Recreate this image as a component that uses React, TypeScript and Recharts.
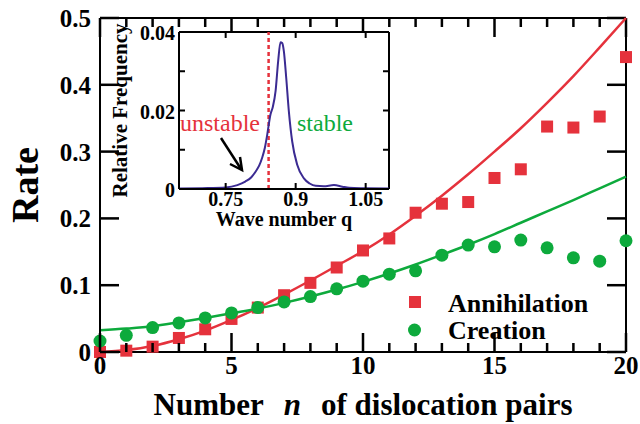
import React from 'react';
import {
  ComposedChart,
  Line,
  Scatter,
  XAxis,
  YAxis,
  Legend,
  Label,
  ReferenceLine,
  CartesianGrid,
} from 'recharts';

const FONT = "'Liberation Serif', 'Times New Roman', serif";
const RED = '#e5323c';
const GREEN = '#0daa3c';
const NAVY = '#3b2b92';

// main panel: rates vs number of dislocation pairs
const pairs = [0, 1, 2, 3, 4, 5, 6, 7, 8, 9, 10, 11, 12, 13, 14, 15, 16, 17, 18, 19, 20];
const annihilation = [0.0, 0.002, 0.008, 0.021, 0.034, 0.0495, 0.0665, 0.085, 0.1035, 0.1265, 0.152, 0.17, 0.2085, 0.222, 0.2245, 0.2605, 0.2735, 0.3375, 0.336, 0.3525, 0.4415];
const creation = [0.0165, 0.025, 0.0365, 0.0435, 0.051, 0.0585, 0.0665, 0.075, 0.083, 0.0945, 0.106, 0.1165, 0.1215, 0.145, 0.16, 0.1575, 0.1675, 0.156, 0.141, 0.136, 0.1665];
const annihilationFit = [0.0, 0.003, 0.009, 0.019, 0.032, 0.048, 0.066, 0.086, 0.107, 0.129, 0.151, 0.176, 0.204, 0.234, 0.266, 0.3, 0.335, 0.373, 0.413, 0.456, 0.5];
const creationFit = [0.0325, 0.035, 0.0385, 0.0445, 0.051, 0.058, 0.065, 0.0735, 0.083, 0.0935, 0.105, 0.1175, 0.131, 0.1455, 0.1605, 0.1765, 0.1935, 0.2105, 0.2275, 0.245, 0.2625];
const seriesNames = ['Annihilation', 'Creation'];
const rateTicks = [0, 0.1, 0.2, 0.3, 0.4, 0.5];

// inset: wave number distribution
const waveNumber = [0.65, 0.7, 0.75, 0.775, 0.792, 0.805, 0.814, 0.822, 0.828, 0.834, 0.839, 0.846, 0.851, 0.857, 0.8625, 0.8675, 0.871, 0.8746, 0.8797, 0.8854, 0.8926, 0.9033, 0.9177, 0.93, 0.943, 0.96, 0.982, 1.0, 1.0146, 1.05, 1.1];
const relFreq = [0.0001, 0.0002, 0.0004, 0.001, 0.0019, 0.003, 0.0044, 0.006, 0.0079, 0.0105, 0.0138, 0.019, 0.0209, 0.025, 0.0326, 0.0374, 0.0372, 0.0352, 0.0284, 0.0198, 0.0121, 0.0062, 0.0027, 0.0014, 0.0008, 0.0007, 0.001, 0.0006, 0.0003, 0.0002, 0.0001];
const qTicks = [0.75, 0.9, 1.05];
const qLabels = ['0.75', '0.9', '1.05'];
const fTicks = [0, 0.01, 0.02, 0.03, 0.04];
const fLabels = ['0', '', '0.02', '', '0.04'];
const stabilityEdge = 0.842;

const mainData = pairs.map((n, i) => ({
  n,
  annihilation: annihilation[i],
  creation: creation[i],
  annihilationFit: annihilationFit[i],
  creationFit: creationFit[i],
}));
const insetData = waveNumber.map((q, i) => ({ q, freq: relFreq[i] }));

// tick lengths for the top/right edges, as data units (19px / 9px / 6px)
const MAJOR_RATE = (0.5 * 19) / 334;
const MINOR_RATE = (0.5 * 9) / 334;
const MAJOR_PAIRS = (20 * 19) / 526;
const INSET_Q = (0.45 * 6) / 210;
const INSET_F = (0.04 * 6) / 158;
const TICK_W = 2.5;

const bold = { style: { fontFamily: FONT, fontWeight: 700 }, fill: '#000' };

const BottomTick = (p: any) => {
  const major = p.payload.value % 5 === 0;
  const len = major ? 19 : 9;
  return (
    <g>
      <rect x={p.x - TICK_W / 2} y={p.y - len} width={TICK_W} height={len} fill="#000" />
      {major && (
        <text x={p.x} y={p.y + 22} textAnchor="middle" fontSize={25} {...bold}>
          {p.payload.value}
        </text>
      )}
    </g>
  );
};
const LeftTick = (p: any) => (
  <g>
    <rect x={p.x} y={p.y - TICK_W / 2} width={19} height={TICK_W} fill="#000" />
    <text x={p.x - 9} y={p.y + 9} textAnchor="end" fontSize={25} {...bold}>
      {p.payload.value === 0 ? '0' : p.payload.value.toFixed(1)}
    </text>
  </g>
);
const InsetBottomTick = (p: any) => (
  <g>
    <rect x={p.x - 1} y={p.y - 6} width={2} height={6} fill="#000" />
    <text x={p.x} y={p.y + 17} textAnchor="middle" fontSize={20} {...bold}>
      {qLabels[p.index]}
    </text>
  </g>
);
const InsetLeftTick = (p: any) => (
  <g>
    <rect x={p.x} y={p.y - 1} width={6} height={2} fill="#000" />
    <text x={p.x - 4} y={p.y + 8} textAnchor="end" fontSize={20} {...bold}>
      {fLabels[p.index]}
    </text>
  </g>
);

const XTitle = (p: any) => {
  const vb = p.viewBox;
  return (
    <text x={vb.x + vb.width / 2} y={vb.y + 63} textAnchor="middle" fontSize={31} {...bold}>
      <tspan>Number</tspan>
      <tspan dx={20} style={{ fontStyle: 'italic' }}>n</tspan>
      <tspan dx={20}>of dislocation pairs</tspan>
    </text>
  );
};
const YTitle = (p: any) => {
  const vb = p.viewBox;
  const x = vb.x + 38;
  const y = vb.y + vb.height / 2;
  return (
    <text x={x} y={y} transform={`rotate(-90, ${x}, ${y})`} textAnchor="middle" fontSize={38} {...bold}>
      Rate
    </text>
  );
};
const InsetXTitle = (p: any) => {
  const vb = p.viewBox;
  return (
    <text x={vb.x + vb.width / 2} y={vb.y + 37} textAnchor="middle" fontSize={20} {...bold}>
      Wave number q
    </text>
  );
};
const InsetYTitle = (p: any) => {
  const vb = p.viewBox;
  const x = vb.x + 127;
  const y = vb.y + vb.height / 2;
  return (
    <text x={x} y={y} transform={`rotate(-90, ${x}, ${y})`} textAnchor="middle" fontSize={21} {...bold}>
      Relative Frequency
    </text>
  );
};

const Square = (p: any) => <rect x={p.cx - 6} y={p.cy - 6} width={12} height={12} fill={RED} />;
const Dot = (p: any) => <circle cx={p.cx} cy={p.cy} r={6.5} fill={GREEN} />;

const LegendBox = () => (
  <svg width={240} height={64}>
    <rect x={9} y={11} width={12} height={12} fill={RED} />
    <text x={48} y={27} fontSize={26} {...bold}>{seriesNames[0]}</text>
    <circle cx={14.5} cy={45} r={6.5} fill={GREEN} />
    <text x={48} y={54} fontSize={26} {...bold}>{seriesNames[1]}</text>
  </svg>
);

const axisLine = { stroke: '#000', strokeWidth: 2 };

export default function App() {
  return (
    <div style={{ position: 'absolute', left: 0, top: 0, width: 640, height: 424, background: '#fff' }}>
      <div style={{ position: 'absolute', left: 0, top: 0 }}>
        <ComposedChart width={640} height={424} data={mainData} margin={{ top: 18, right: 14, bottom: 0, left: 0 }}>
          <XAxis xAxisId="b" dataKey="n" type="number" domain={[0, 20]} ticks={pairs} interval={0}
            tickSize={0} tickMargin={0} tickLine={false} tick={BottomTick} axisLine={axisLine} height={72}>
            <Label content={XTitle} />
          </XAxis>
          <YAxis yAxisId="l" type="number" domain={[0, 0.5]} ticks={rateTicks} interval={0}
            tickSize={0} tickMargin={0} tickLine={false} tick={LeftTick} axisLine={axisLine} width={100}>
            <Label content={YTitle} />
          </YAxis>
          <ReferenceLine xAxisId="b" yAxisId="l" y={0.5} stroke="#000" strokeWidth={2} />
          <ReferenceLine xAxisId="b" yAxisId="l" x={20} stroke="#000" strokeWidth={2} />
          {pairs.map((n) => (
            <ReferenceLine key={`t${n}`} xAxisId="b" yAxisId="l" stroke="#000" strokeWidth={TICK_W}
              segment={[{ x: n, y: 0.5 }, { x: n, y: 0.5 - (n % 5 === 0 ? MAJOR_RATE : MINOR_RATE) }]} />
          ))}
          {rateTicks.map((r) => (
            <ReferenceLine key={`r${r}`} xAxisId="b" yAxisId="l" stroke="#000" strokeWidth={TICK_W}
              segment={[{ x: 20, y: r }, { x: 20 - MAJOR_PAIRS, y: r }]} />
          ))}
          <Line xAxisId="b" yAxisId="l" type="monotone" dataKey="annihilationFit" stroke={RED} strokeWidth={2.5}
            dot={false} isAnimationActive={false} legendType="none" />
          <Line xAxisId="b" yAxisId="l" type="monotone" dataKey="creationFit" stroke={GREEN} strokeWidth={2.5}
            dot={false} isAnimationActive={false} legendType="none" />
          <Scatter xAxisId="b" yAxisId="l" name={seriesNames[0]} dataKey="annihilation" shape={Square} isAnimationActive={false} />
          <Scatter xAxisId="b" yAxisId="l" name={seriesNames[1]} dataKey="creation" shape={Dot} isAnimationActive={false} />
          <Legend layout="horizontal" verticalAlign="middle" align="center" content={LegendBox}
            wrapperStyle={{ left: 400, top: 285, width: 240, height: 64 }} />
        </ComposedChart>
      </div>
      <div style={{ position: 'absolute', left: 0, top: 0 }}>
        <ComposedChart width={400} height={240} data={insetData} margin={{ top: 32, right: 11, bottom: 0, left: 0 }}>
          <CartesianGrid xAxisId="b" yAxisId="l" fill="#fff" horizontal={false} vertical={false} />
          <XAxis xAxisId="b" dataKey="q" type="number" domain={[0.65, 1.1]} ticks={qTicks} interval={0}
            tickSize={0} tickMargin={0} tickLine={false} tick={InsetBottomTick} axisLine={axisLine} height={51}>
            <Label content={InsetXTitle} />
          </XAxis>
          <YAxis yAxisId="l" type="number" domain={[0, 0.04]} ticks={fTicks} interval={0}
            tickSize={0} tickMargin={0} tickLine={false} tick={InsetLeftTick} axisLine={axisLine} width={179}>
            <Label content={InsetYTitle} />
          </YAxis>
          <ReferenceLine xAxisId="b" yAxisId="l" y={0.04} stroke="#000" strokeWidth={2} />
          <ReferenceLine xAxisId="b" yAxisId="l" x={1.1} stroke="#000" strokeWidth={2} />
          {qTicks.map((q) => (
            <ReferenceLine key={`qt${q}`} xAxisId="b" yAxisId="l" stroke="#000" strokeWidth={2}
              segment={[{ x: q, y: 0.04 }, { x: q, y: 0.04 - INSET_F }]} />
          ))}
          {fTicks.map((f) => (
            <ReferenceLine key={`fr${f}`} xAxisId="b" yAxisId="l" stroke="#000" strokeWidth={2}
              segment={[{ x: 1.1, y: f }, { x: 1.1 - INSET_Q, y: f }]} />
          ))}
          <ReferenceLine xAxisId="b" yAxisId="l" x={stabilityEdge} stroke={RED} strokeWidth={2.5} strokeDasharray="4 3" />
          <Line xAxisId="b" yAxisId="l" type="monotone" dataKey="freq" stroke={NAVY} strokeWidth={2}
            dot={false} isAnimationActive={false} />
        </ComposedChart>
      </div>
      <svg width={640} height={424} style={{ position: 'absolute', left: 0, top: 0, pointerEvents: 'none' }}>
        <text x={180} y={131} fontSize={24} style={{ fontFamily: FONT }} fill={RED}>unstable</text>
        <text x={297} y={131} fontSize={24} style={{ fontFamily: FONT }} fill={GREEN}>stable</text>
        <line x1={221} y1={138} x2={241} y2={169} stroke="#000" strokeWidth={2.5} />
        <polyline points="240,157 242,170 230,164" fill="none" stroke="#000" strokeWidth={2.5} />
      </svg>
    </div>
  );
}
